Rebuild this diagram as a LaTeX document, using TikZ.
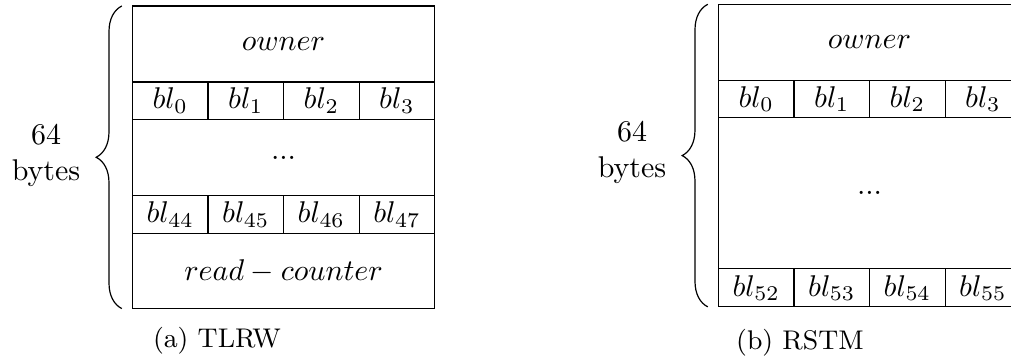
\documentclass[tikz,border=0pt]{standalone}
\usetikzlibrary{positioning,decorations.pathreplacing}
\tikzset{
  mem/wide/.style={
    draw,
    minimum width=3.54cm,
    minimum height=0.89cm,
    inner sep=0pt,
    outer sep=0pt,
    anchor=north west
  },
  mem/cell/.style={
    draw,
    minimum width=0.885cm,
    minimum height=0.44cm,
    inner sep=0pt,
    outer sep=0pt
  },
  mem/brace/.style={decorate, decoration={brace, amplitude=0.3cm}},
  mem/size/.style={align=center},
  mem/caption/.style={font=\small}
}

\begin{document}
\begin{tikzpicture}[x=1cm,y=1cm]
  \clip (0,0) rectangle (11.844,4.217);
  % (a) TLRW
  \node[mem/wide] (tOwner) at (1.552,4.147) {$owner$};
  \node[mem/cell,below right=0pt and 0pt of tOwner.south west] (tA0) {$bl_{0}$};
  \node[mem/cell,right=0pt of tA0] (tA1) {$bl_{1}$};
  \node[mem/cell,right=0pt of tA1] (tA2) {$bl_{2}$};
  \node[mem/cell,right=0pt of tA2] (tA3) {$bl_{3}$};
  \node[mem/wide,below right=0pt and 0pt of tA0.south west] (tDots) {...};
  \node[mem/cell,minimum height=0.445cm,below right=0pt and 0pt of tDots.south west] (tB0) {$bl_{44}$};
  \node[mem/cell,minimum height=0.445cm,right=0pt of tB0] (tB1) {$bl_{45}$};
  \node[mem/cell,minimum height=0.445cm,right=0pt of tB1] (tB2) {$bl_{46}$};
  \node[mem/cell,minimum height=0.445cm,right=0pt of tB2] (tB3) {$bl_{47}$};
  \node[mem/wide,minimum height=0.88cm,below right=0pt and 0pt of tB0.south west] (tRead) {$read-counter$};
  \draw[mem/brace] ([xshift=-0.125cm]tRead.south west) -- ([xshift=-0.125cm]tOwner.north west);
  \node[mem/size] (tSize) at (0.539,2.402) {64\\bytes};
  \node[mem/caption] (tCap) at (2.542,0.223) {(a) TLRW};

  % (b) RSTM
  \node[mem/wide] (rOwner) at (8.417,4.167) {$owner$};
  \node[mem/cell,below right=0pt and 0pt of rOwner.south west] (rA0) {$bl_{0}$};
  \node[mem/cell,right=0pt of rA0] (rA1) {$bl_{1}$};
  \node[mem/cell,right=0pt of rA1] (rA2) {$bl_{2}$};
  \node[mem/cell,right=0pt of rA2] (rA3) {$bl_{3}$};
  \node[mem/wide,minimum height=1.77cm,below right=0pt and 0pt of rA0.south west] (rDots) {...};
  \node[mem/cell,minimum height=0.445cm,below right=0pt and 0pt of rDots.south west] (rB0) {$bl_{52}$};
  \node[mem/cell,minimum height=0.445cm,right=0pt of rB0] (rB1) {$bl_{53}$};
  \node[mem/cell,minimum height=0.445cm,right=0pt of rB1] (rB2) {$bl_{54}$};
  \node[mem/cell,minimum height=0.445cm,right=0pt of rB2] (rB3) {$bl_{55}$};
  \draw[mem/brace] ([xshift=-0.125cm]rB0.south west) -- ([xshift=-0.125cm]rOwner.north west);
  \node[mem/size] (rSize) at (7.404,2.437) {64\\bytes};
  \node[mem/caption] (rCap) at (9.372,0.199) {(b) RSTM};
\end{tikzpicture}
\end{document}
